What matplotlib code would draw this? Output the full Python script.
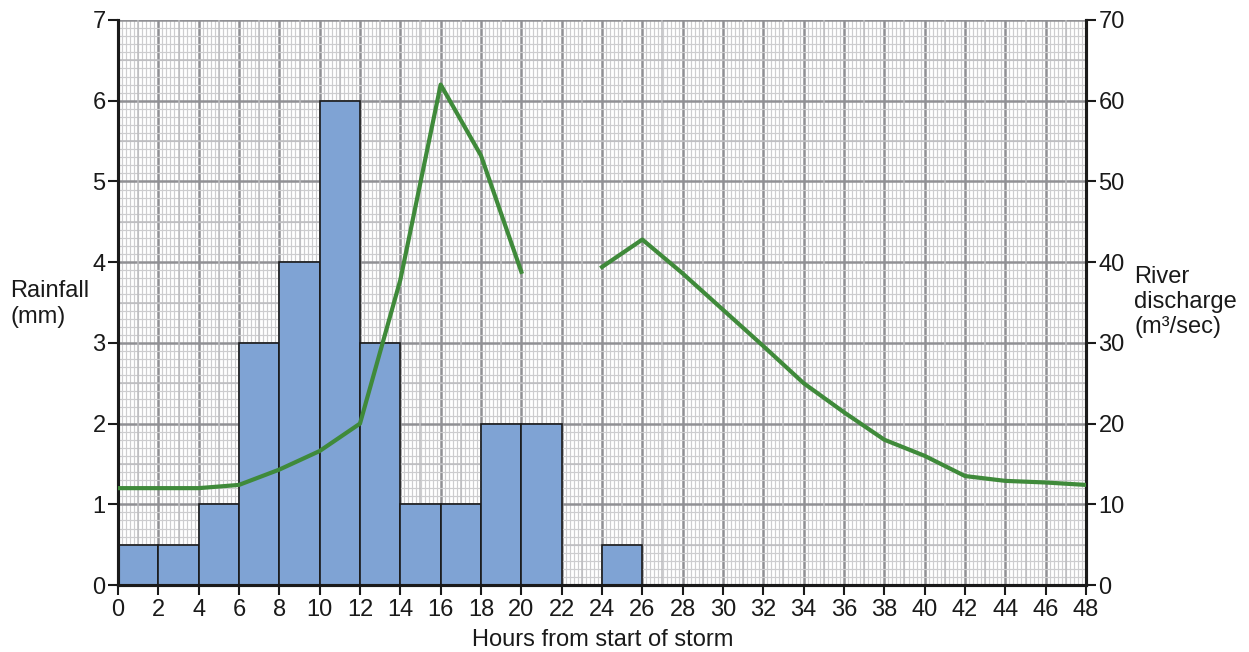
import matplotlib
matplotlib.use("Agg")
import matplotlib.pyplot as plt
import numpy as np
from matplotlib.ticker import MultipleLocator

plt.rcParams['font.family'] = ['Liberation Sans', 'DejaVu Sans']

# Rainfall bars (2-hour intervals)
bar_starts = [0, 2, 4, 6, 8, 10, 12, 14, 16, 18, 20, 24]
rainfall_mm = [0.5, 0.5, 1, 3, 4, 6, 3, 1, 1, 2, 2, 0.5]

# River discharge (two segments, gap between 20 and 24 h)
hours_a = [0, 4, 6, 8, 10, 12, 14, 16, 18, 20]
discharge_a = [12, 12, 12.4, 14.3, 16.6, 20, 37.8, 62, 53.2, 38.8]
hours_b = [24, 26, 28, 30, 32, 34, 36, 38, 40, 42, 44, 46, 48]
discharge_b = [39.4, 42.8, 38.6, 34.1, 29.6, 25.0, 21.4, 18.0, 16.0, 13.5, 12.9, 12.7, 12.4]

x_ticks = list(range(0, 49, 2))
rain_ticks = list(range(0, 8))
discharge_ticks = list(range(0, 71, 10))

fig = plt.figure(figsize=(12.49, 6.52), dpi=100)
ax = fig.add_axes([118/1249, 1-585/652, (1086-118)/1249, (585-20)/652])

ax.set_xlim(0, 48)
ax.set_ylim(0, 7)
ax.xaxis.set_minor_locator(MultipleLocator(0.2))
ax.yaxis.set_minor_locator(MultipleLocator(0.1))
ax.set_xticks(x_ticks)
ax.set_yticks(rain_ticks)
ax.grid(which='minor', color='#cdcdcf', linewidth=0.85)
ax.grid(which='major', color='#909094', linewidth=1.8)
# mid lines
for xv in np.arange(1, 48, 2):
    ax.axvline(xv, color='#bcbcbf', linewidth=1.1, zorder=0.6)
for yv in np.arange(0.5, 7, 1):
    ax.axhline(yv, color='#bcbcbf', linewidth=1.1, zorder=0.6)
ax.set_axisbelow(True)

ax.bar(bar_starts, rainfall_mm, width=2, align='edge', color='#7fa3d4',
       edgecolor='#1a1a1a', linewidth=1.2, zorder=2)

ax2 = ax.twinx()
ax2.set_ylim(0, 70)
ax2.set_yticks(discharge_ticks)
ax2.plot(hours_a, discharge_a, color='#3f8a3a', linewidth=3, zorder=3)
ax2.plot(hours_b, discharge_b, color='#3f8a3a', linewidth=3, zorder=3)

for a in (ax, ax2):
    a.spines['top'].set_visible(False)
    for s in ('left', 'right', 'bottom'):
        a.spines[s].set_linewidth(2.2)
        a.spines[s].set_color('#1a1a1a')

ax.tick_params(which='minor', length=0)
ax.tick_params(which='major', direction='out', length=7, width=1.5,
               labelsize=17, color='#1a1a1a', labelcolor='#1a1a1a', pad=2)
ax2.tick_params(which='major', direction='out', length=7, width=1.5,
                labelsize=17, color='#1a1a1a', labelcolor='#1a1a1a', pad=2)
ax.tick_params(axis='x', pad=3)

fig.text(10/1249, 1-304/652, "Rainfall\n(mm)", fontsize=17, ha='left', va='center',
         color='#1a1a1a', linespacing=1.2)
fig.text(1134/1249, 1-302/652, "River\ndischarge\n(m\u00b3/sec)", fontsize=17, ha='left',
         va='center', color='#1a1a1a', linespacing=1.2)
fig.text(603/1249, 1-640/652, "Hours from start of storm", fontsize=17, ha='center',
         va='center', color='#1a1a1a')

fig.savefig("out.png", dpi=100)
